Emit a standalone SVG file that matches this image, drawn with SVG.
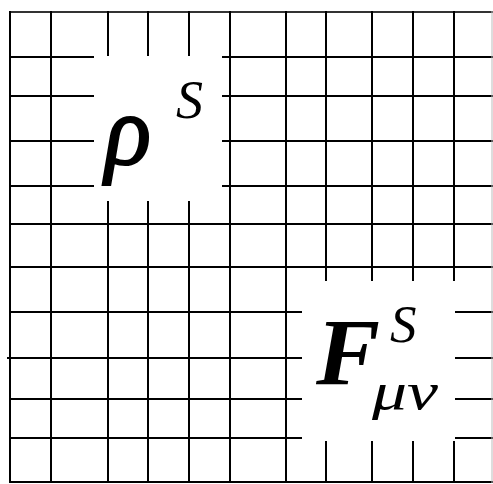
<svg xmlns="http://www.w3.org/2000/svg" width="493" height="484" viewBox="0 0 493 484">
  <style>
    .g line { stroke: #000; stroke-width: 2; }
    .mask { fill: #fff; }
    .m { font-family: "Liberation Serif", "Times New Roman", serif; font-style: italic; fill: #000; }
    .b { font-weight: bold; }
  </style>
  <rect width="493" height="484" fill="#fff"/>
  <g id="grid" class="g">
    <line x1="10" y1="12" x2="493" y2="12" style="stroke:#333"/>
    <line x1="10" y1="57" x2="493" y2="57"/>
    <line x1="10" y1="96" x2="493" y2="96"/>
    <line x1="10" y1="141" x2="493" y2="141"/>
    <line x1="10" y1="186" x2="493" y2="186"/>
    <line x1="10" y1="224" x2="493" y2="224"/>
    <line x1="10" y1="267" x2="493" y2="267"/>
    <line x1="10" y1="312" x2="493" y2="312"/>
    <line x1="7" y1="358" x2="493" y2="358"/>
    <line x1="10" y1="399" x2="493" y2="399"/>
    <line x1="10" y1="438" x2="493" y2="438"/>
    <line x1="10" y1="482" x2="493" y2="482"/>
    <line x1="10" y1="11" x2="10" y2="483"/>
    <line x1="51" y1="11" x2="51" y2="483"/>
    <line x1="108" y1="11" x2="108" y2="483"/>
    <line x1="148" y1="11" x2="148" y2="483"/>
    <line x1="189" y1="11" x2="189" y2="483"/>
    <line x1="230" y1="11" x2="230" y2="483"/>
    <line x1="286" y1="11" x2="286" y2="483"/>
    <line x1="326" y1="11" x2="326" y2="483"/>
    <line x1="372" y1="11" x2="372" y2="483"/>
    <line x1="413" y1="11" x2="413" y2="483"/>
    <line x1="454" y1="11" x2="454" y2="483"/>
    <line x1="492" y1="11" x2="492" y2="483" style="stroke:#bbb;stroke-width:1"/>
  </g>
  <g id="rho-s">
    <rect class="mask" x="94" y="56" width="128" height="145"/>
    <text class="m" x="105" y="164" font-size="100" stroke="#000" stroke-width="2" textLength="46" lengthAdjust="spacingAndGlyphs">ρ</text>
    <text class="m" x="176" y="118" font-size="54">S</text>
  </g>
  <g id="f-s-munu">
    <rect class="mask" x="302" y="281" width="153" height="160"/>
    <text class="m b" x="316" y="385" font-size="96">F</text>
    <text class="m" x="390" y="342" font-size="53">S</text>
    <text class="m" x="372" y="409" font-size="52" textLength="66" lengthAdjust="spacingAndGlyphs">μν</text>
  </g>
</svg>
